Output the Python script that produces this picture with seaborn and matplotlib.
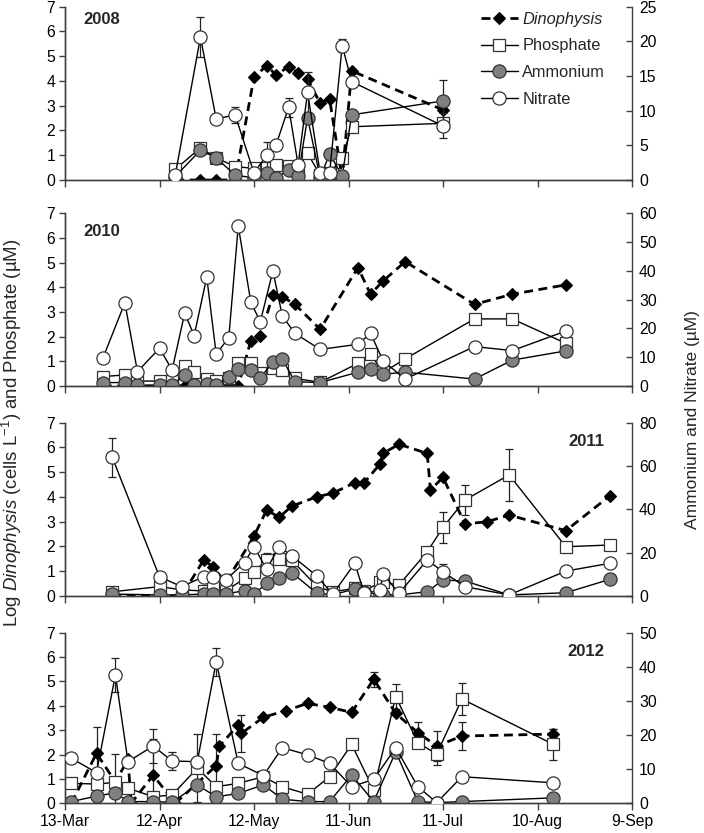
import numpy as np
import matplotlib
matplotlib.use("Agg")
import matplotlib.pyplot as plt
from matplotlib.lines import Line2D
import seaborn as sns

# sampling days, counted from 13 March
dates_2008 = [35, 43, 48, 54, 60, 64, 67, 71, 74, 77, 81, 84, 88, 91, 120]
dino_2008 = [0, 0, 0, 0, 4.15, 4.62, 4.24, 4.58, 4.33, 4.08, 3.1, 3.27, 0.07, 4.41, 2.83]
po4_2008 = [0.43, 1.3, 0.9, 0.54, 0.47, 0.5, 0.62, 0.55, 0.45, 1.08, 0.2, 0.3, 0.88, 2.15, 2.29]
nh4_2008 = [0.5, 4.3, 3.2, 0.7, 0.3, 1.0, 0.3, 1.44, 0.6, 9.0, 0.3, 3.8, 0.6, 9.4, 11.4]
no3_2008 = [0.7, 20.6, 8.8, 9.4, 1.0, 3.6, 5.05, 10.5, 2.2, 12.65, 1.0, 1.0, 19.4, 14.2, 7.8]
no3_err_2008 = {43: 2.9, 54: 1.2, 64: 1.9, 71: 1.4, 77: 3.0, 88: 0.9, 120: 1.8}
nh4_err_2008 = {120: 3.0}

dates_2010 = [12, 19, 23, 30, 34, 38, 41, 45, 48, 52, 55, 59, 62, 66, 69, 73, 81, 93, 97, 101, 108, 130, 142, 159]
dino_2010 = [0, 0, 0, 0, 0, 0, 0, 0, 0, 0, 0, 1.84, 2.03, 3.69, 3.62, 3.31, 2.3, 4.8, 3.72, 4.26, 5.04, 3.31, 3.72, 4.1]
po4_2010 = [0.38, 0.45, 0.2, 0.2, 0.2, 0.82, 0.55, 0.28, 0.2, 0.34, 0.92, 0.92, 0.51, 0.72, 0.65, 0.31, 0.15, 0.92, 1.28, 0.55, 1.1, 2.72, 2.72, 1.73]
nh4_2010 = [1.2, 1.2, 0.3, 0.2, 0.2, 3.8, 0.3, 0.6, 0.3, 3.2, 5.8, 5.6, 2.9, 8.2, 9.3, 1.5, 1.2, 4.8, 5.8, 4.1, 4.8, 2.4, 9.0, 12.2]
no3_2010 = [9.6, 28.9, 5.0, 13.1, 5.6, 25.3, 17.5, 37.8, 11.1, 16.8, 55.6, 29.1, 22.3, 40.0, 24.3, 18.3, 12.7, 14.5, 18.3, 8.7, 2.4, 13.7, 12.3, 19.1]

dates_2011 = [15, 30, 37, 44, 47, 51, 57, 60, 64, 68, 72, 80, 85, 92, 95, 100, 101, 106, 115, 120, 127, 141, 159, 173]
po4_2011 = [0.17, 0.38, 0.25, 0.2, 0.38, 0.2, 0.71, 0.98, 1.45, 1.49, 1.45, 0.38, 0.17, 0.31, 0.2, 0.55, 0.55, 0.44, 1.79, 2.77, 3.88, 4.89, 1.99, 2.06]
nh4_2011 = [0.9, 0.5, 0.5, 0.9, 0.9, 0.9, 2.5, 0.9, 5.8, 8.2, 10.8, 1.2, 0.6, 3.2, 2.0, 0.5, 0.6, 0.5, 2.0, 7.4, 6.9, 0.5, 1.5, 7.7]
no3_2011 = [64.0, 8.9, 4.3, 8.9, 8.6, 7.4, 15.4, 22.8, 12.3, 22.8, 18.6, 9.2, 0.8, 15.1, 1.2, 2.6, 10.2, 1.2, 16.6, 11.2, 4.3, 0.5, 11.5, 15.1]
dino_dates_2011 = [15, 30, 37, 44, 47, 51, 60, 64, 68, 72, 80, 85, 92, 95, 100, 101, 106, 115, 116, 120, 127, 134, 141, 159, 173]
dino_2011 = [0, 0, 0, 1.45, 1.18, 0.54, 2.42, 3.47, 3.18, 3.63, 4.01, 4.15, 4.58, 4.58, 5.33, 5.76, 6.13, 5.76, 4.28, 4.79, 2.91, 3.0, 3.27, 2.64, 4.05]
po4_err_2011 = {64: 0.27, 120: 0.63, 127: 0.6, 141: 1.05, 159: 0.15}
no3_err_2011 = {15: 8.9, 120: 3.4}

dates_2012 = [2, 10, 16, 20, 28, 34, 42, 48, 55, 63, 69, 77, 84, 91, 98, 105, 112, 118, 126, 155]
po4_2012 = [0.82, 0.79, 0.86, 0.62, 0.27, 0.34, 1.44, 0.68, 0.82, 1.09, 0.68, 0.37, 1.09, 2.42, 0.55, 4.38, 2.49, 2.02, 4.28, 2.42]
nh4_2012 = [0.5, 2.1, 3.1, 0.5, 0.5, 0.3, 5.4, 1.9, 2.9, 5.4, 1.2, 0.5, 0.5, 8.3, 0.5, 15.1, 0.5, 0.2, 0.5, 1.6]
no3_2012 = [13.2, 9.0, 37.6, 12.2, 16.8, 12.4, 12.2, 41.5, 11.7, 8.1, 16.3, 14.2, 11.7, 4.9, 7.0, 16.3, 4.9, 0.2, 7.8, 6.0]
dino_dates_2012 = [2, 10, 16, 20, 21, 28, 35, 48, 49, 55, 56, 63, 70, 77, 84, 91, 98, 105, 112, 118, 126, 155]
dino_2012 = [0, 2.05, 0.88, 1.8, 0, 1.15, 0, 1.54, 2.35, 3.21, 2.87, 3.53, 3.8, 4.1, 3.94, 3.73, 5.09, 3.69, 2.9, 2.35, 2.76, 2.84]
dino_err_2012 = {10: 1.1, 28: 1.5, 48: 1.3, 56: 0.75, 98: 0.3, 112: 0.45, 118: 0.6, 126: 0.58, 155: 0.2}
po4_err_2012 = {16: 1.15, 42: 1.4, 105: 0.52, 118: 0.45, 126: 0.66, 155: 0.64}
no3_err_2012 = {16: 5.1, 28: 4.9, 34: 2.7, 48: 4.1}

tick_days = [0, 30, 60, 90, 120, 150, 180]
tick_labels = ["13-Mar", "12-Apr", "12-May", "11-Jun", "11-Jul", "10-Aug", "9-Sep"]

sns.set_style("ticks")
plt.rcParams["font.family"] = ["Liberation Sans", "DejaVu Sans"]
plt.rcParams["mathtext.fontset"] = "custom"
plt.rcParams["mathtext.rm"] = "Liberation Sans"
plt.rcParams["mathtext.it"] = "Liberation Sans:italic"

W, H = 704, 833
fig = plt.figure(figsize=(W / 100, H / 100), dpi=100)

DASH = (0, (3.2, 2.0))
dino_style = dict(color="black", lw=2.0, linestyle=DASH, marker="D", ms=6,
                  mfc="black", mec="black", mew=0.8)
po4_style = dict(color="black", lw=1.0, marker="s", ms=8, mfc="white", mec="#333333", mew=0.9)
nh4_style = dict(color="black", lw=1.0, marker="o", ms=9.5, mfc="#808080", mec="#333333", mew=0.9)
no3_style = dict(color="black", lw=1.0, marker="o", ms=9.5, mfc="white", mec="#333333", mew=0.9)


def err_bars(ax, errs, x, y):
    if not errs:
        return
    xs = [d for d in errs]
    ys = [y[x.index(d)] for d in xs]
    ax.errorbar(xs, ys, yerr=[errs[d] for d in xs], fmt="none", ecolor="#222222",
                elinewidth=0.9, capsize=3, capthick=0.9, zorder=1.5)


panels = [
    # year, nutrient dates, dino dates, dino, po4, nh4, no3, right max, right step, errors
    ("2008", dates_2008, dates_2008, dino_2008, po4_2008, nh4_2008, no3_2008, 25, 5,
     {}, {}, nh4_err_2008, no3_err_2008, (102, 20)),
    ("2010", dates_2010, dates_2010, dino_2010, po4_2010, nh4_2010, no3_2010, 60, 10,
     {}, {}, {}, {}, (102, 231)),
    ("2011", dates_2011, dino_dates_2011, dino_2011, po4_2011, nh4_2011, no3_2011, 80, 20,
     {}, po4_err_2011, {}, no3_err_2011, (586, 442)),
    ("2012", dates_2012, dino_dates_2012, dino_2012, po4_2012, nh4_2012, no3_2012, 50, 10,
     dino_err_2012, po4_err_2012, {}, no3_err_2012, (586, 651)),
]
tops = [6.7, 213.3, 422.7, 632.7]
bottoms = [180, 386, 596, 803.3]
x0, x1 = 65, 632
axis_col = "#404040"

for i, (year, dts, ddts, dino, po4, nh4, no3, ymax2, step2,
        e_dino, e_po4, e_nh4, e_no3, ypos) in enumerate(panels):
    ax = fig.add_axes([x0 / W, 1 - bottoms[i] / H, (x1 - x0) / W, (bottoms[i] - tops[i]) / H])
    ax2 = ax.twinx()

    err_bars(ax, e_dino, ddts, dino)
    err_bars(ax, e_po4, dts, po4)
    sns.lineplot(x=ddts, y=dino, ax=ax, estimator=None, sort=False, errorbar=None, zorder=2, **dino_style)
    sns.lineplot(x=dts, y=po4, ax=ax, estimator=None, sort=False, errorbar=None, zorder=3, **po4_style)

    err_bars(ax2, e_nh4, dts, nh4)
    err_bars(ax2, e_no3, dts, no3)
    sns.lineplot(x=dts, y=nh4, ax=ax2, estimator=None, sort=False, errorbar=None, zorder=2, **nh4_style)
    sns.lineplot(x=dts, y=no3, ax=ax2, estimator=None, sort=False, errorbar=None, zorder=3, **no3_style)

    ax.set_xlim(0, 180)
    ax.set_ylim(0, 7)
    ax.set_yticks(range(0, 8))
    ax2.set_ylim(0, ymax2)
    ax2.set_yticks(np.arange(0, ymax2 + 1, step2))
    ax.set_xticks(tick_days)
    if i == 3:
        ax.set_xticklabels(tick_labels)
    else:
        ax.set_xticklabels([])
    for a in (ax, ax2):
        a.set_xlabel("")
        a.set_ylabel("")
        a.spines["top"].set_visible(False)
        for s in a.spines.values():
            s.set_color(axis_col)
            s.set_linewidth(1.0)
    ax.spines["right"].set_visible(False)
    ax.tick_params(axis="y", direction="out", length=4, width=1, colors=axis_col,
                   labelcolor="black", labelsize=11.3, pad=3)
    ax.tick_params(axis="x", direction="out", length=5, width=1, colors=axis_col,
                   labelcolor="black", labelsize=11.3, pad=3)
    ax2.tick_params(axis="y", direction="in", length=4, width=1, colors=axis_col,
                    labelcolor="black", labelsize=11.3, pad=5)

    fig.text(ypos[0] / W, 1 - ypos[1] / H, year, ha="center", va="center",
             fontsize=12, fontweight="bold")

handles = [
    Line2D([], [], **dino_style),
    Line2D([], [], **po4_style),
    Line2D([], [], **nh4_style),
    Line2D([], [], **no3_style),
]
leg = fig.legend(handles, ["Dinophysis", "Phosphate", "Ammonium", "Nitrate"],
                 loc="upper left", bbox_to_anchor=(474 / W, 1 - 5 / H), frameon=False,
                 fontsize=11.8, handlelength=2.3, handletextpad=0.25, labelspacing=0.72,
                 borderaxespad=0)
leg.get_texts()[0].set_fontstyle("italic")

fig.text(12 / W, 1 - 433 / H, r"Log $\mathit{Dinophysis}$ (cells L$^{-1}$) and Phosphate (µM)",
         rotation=90, ha="center", va="center", fontsize=13.4)
fig.text(692 / W, 1 - 420 / H, "Ammonium and Nitrate (µM)",
         rotation=90, ha="center", va="center", fontsize=12.5)

fig.savefig("out.png", dpi=100)
